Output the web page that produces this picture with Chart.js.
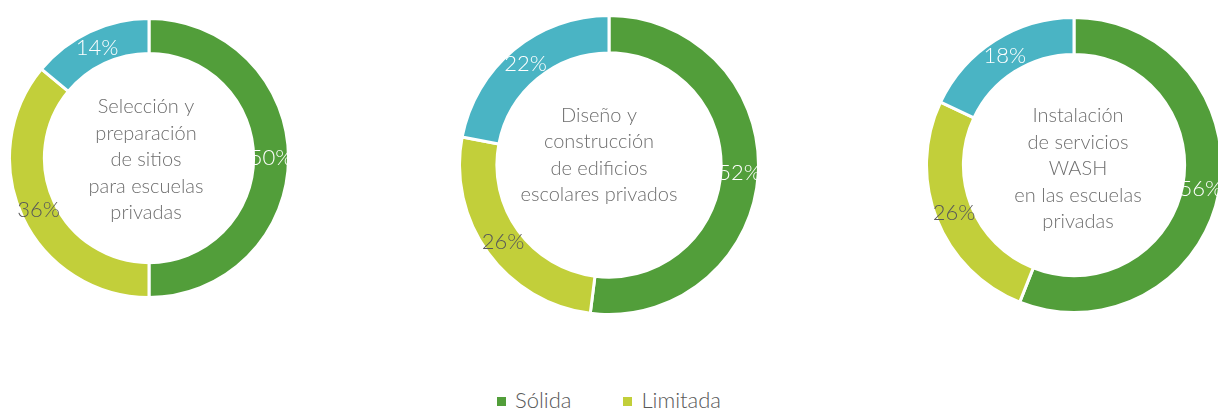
<!DOCTYPE html>
<html><head><meta charset="utf-8">
<script src="https://cdn.jsdelivr.net/npm/chart.js@4"></script>
<style>
html,body{margin:0;padding:0;background:#fff;width:1218px;height:410px;overflow:hidden;position:relative;font-family:Lato,"Open Sans",sans-serif;}
.c{position:absolute;}
#legend{position:absolute;left:0;top:386px;width:1218px;text-align:center;font-size:22px;font-weight:300;color:#595959;}
#legend span.item{display:inline-block;margin:0 26px;}
#legend i{display:inline-block;width:9px;height:9px;margin-right:9px;vertical-align:2px;}
</style></head><body>
<div class="c" style="left:8px;top:17px;width:282px;height:282px"><canvas id="c1"></canvas></div>
<div class="c" style="left:458px;top:14px;width:302px;height:302px"><canvas id="c2"></canvas></div>
<div class="c" style="left:925px;top:16px;width:298px;height:298px"><canvas id="c3"></canvas></div>
<div id="legend"></div>
<script>
const categories = ["Sólida", "Limitada", "Otra"];
const legendCategories = ["Sólida", "Limitada"];
const seleccion = [50, 36, 14];
const diseno = [52, 26, 22];
const instalacion = [56, 26, 18];
const titles = [
  ["Selección y", "preparación", "de sitios", "para escuelas", "privadas"],
  ["Diseño y", "construcción", "de edificios", "escolares privados"],
  ["Instalación", "de servicios", "WASH", "en las escuelas", "privadas"]
];
const colors = ["#529E3A", "#C2CF3A", "#4AB4C4"];
const labelColors = ["#FFFFFF", "#595959", "#FFFFFF"];
const FONT = "Lato, 'Open Sans', sans-serif";

const labelPlugin = {
  id: 'ringLabels',
  afterDatasetsDraw(chart, args, opts) {
    const ctx = chart.ctx;
    const meta = chart.getDatasetMeta(0);
    const data = chart.data.datasets[0].data;
    ctx.save();
    ctx.font = "300 22px " + FONT;
    ctx.textAlign = "center";
    ctx.textBaseline = "middle";
    meta.data.forEach((arc, i) => {
      const p = arc.getProps(['x','y','startAngle','endAngle','innerRadius','outerRadius'], true);
      const a = (p.startAngle + p.endAngle) / 2;
      const r = (p.innerRadius + p.outerRadius) / 2;
      ctx.fillStyle = labelColors[i];
      ctx.fillText(data[i] + "%", p.x + r * Math.cos(a), p.y + r * Math.sin(a));
    });
    const arc0 = meta.data[0];
    ctx.fillStyle = "#6E6E6E";
    ctx.font = "300 20px " + FONT;
    const lines = opts.lines || [];
    const lh = opts.lineHeight || 26.5;
    const cx = arc0.x + (opts.dx || 0);
    const cy = arc0.y + (opts.dy || 0);
    lines.forEach((t, k) => {
      ctx.fillText(t, cx, cy + (k - (lines.length - 1) / 2) * lh);
    });
    ctx.restore();
  }
};

function make(id, values, lines, dx, dy) {
  new Chart(document.getElementById(id), {
    type: 'doughnut',
    data: {
      labels: categories,
      datasets: [{
        data: values,
        backgroundColor: colors,
        borderColor: "#FFFFFF",
        borderWidth: 3,
        hoverOffset: 0
      }]
    },
    options: {
      responsive: true,
      maintainAspectRatio: false,
      animation: false,
      cutout: "75%",
      layout: { padding: 0 },
      plugins: {
        legend: { display: false },
        tooltip: { enabled: false },
        ringLabels: { lines: lines, dx: dx, dy: dy }
      }
    },
    plugins: [labelPlugin]
  });
}
make('c1', seleccion, titles[0], -3, 2);
make('c2', diseno, titles[1], -10, -10);
make('c3', instalacion, titles[2], 4, 4);

const lg = document.getElementById('legend');
legendCategories.forEach((name, i) => {
  const s = document.createElement('span');
  s.className = 'item';
  const sw = document.createElement('i');
  sw.style.background = colors[i];
  s.appendChild(sw);
  s.appendChild(document.createTextNode(name));
  lg.appendChild(s);
});
</script>
</body></html>
